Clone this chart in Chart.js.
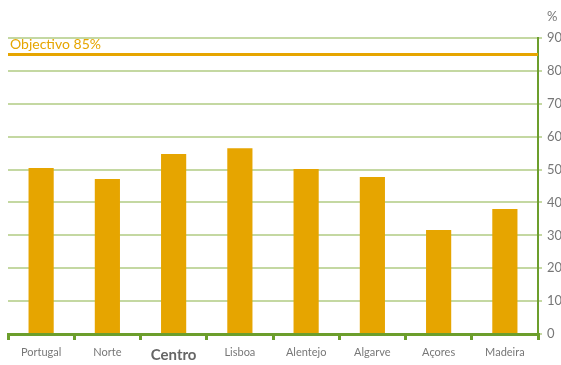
<!DOCTYPE html>
<html>
<head>
<meta charset="utf-8">
<script src="https://cdn.jsdelivr.net/npm/chart.js@4"></script>
<style>
  body { margin: 0; background: #fff; }
  #wrap { width: 561px; height: 365px; position: relative; }
</style>
</head>
<body>
<div id="wrap"><canvas id="chart"></canvas></div>
<script>
// Dados
const regions = ['Portugal', 'Norte', 'Centro', 'Lisboa', 'Alentejo', 'Algarve', 'Açores', 'Madeira'];
const values = [50.5, 47.1, 54.7, 56.5, 50.2, 47.7, 31.6, 38.0];
const highlight = 'Centro';
const targetValue = 85;
const targetLabel = 'Objectivo 85%';
const unitLabel = '%';

const ORANGE = '#e6a500';
const GREEN = '#6c9e2c';
const LIGHT_GREEN = '#c4d8a2';
const GREY = '#777777';
const FONT = 'Lato, "DejaVu Sans", sans-serif';

// Linha do objectivo + unidade
const targetPlugin = {
    id: 'targetLine',
    afterDatasetsDraw(chart) {
        const { ctx, chartArea, scales } = chart;
        const y = scales.y.getPixelForValue(targetValue);
        ctx.save();
        ctx.strokeStyle = ORANGE;
        ctx.lineWidth = 3;
        ctx.beginPath();
        ctx.moveTo(chartArea.left, y);
        ctx.lineTo(chartArea.right, y);
        ctx.stroke();
        ctx.fillStyle = ORANGE;
        ctx.font = '14px ' + FONT;
        ctx.textBaseline = 'bottom';
        ctx.textAlign = 'left';
        ctx.fillText(targetLabel, chartArea.left + 2, y - 3);
        ctx.fillStyle = GREY;
        ctx.font = '13px ' + FONT;
        ctx.textBaseline = 'middle';
        ctx.fillText(unitLabel, chartArea.right + 9, 17);
        ctx.restore();
    }
};

new Chart(document.getElementById('chart'), {
    type: 'bar',
    data: {
        labels: regions,
        datasets: [{
            data: values,
            backgroundColor: ORANGE,
            barPercentage: 0.38,
            categoryPercentage: 1
        }]
    },
    options: {
        responsive: true,
        maintainAspectRatio: false,
        animation: false,
        layout: { padding: { top: 38, left: 8, right: 0, bottom: 0 } },
        plugins: {
            legend: { display: false },
            tooltip: { enabled: false }
        },
        scales: {
            x: {
                afterFit(scale) { scale.height = 31; },
                grid: {
                    display: true,
                    drawOnChartArea: false,
                    offset: true,
                    tickLength: 6,
                    color: GREEN,
                    lineWidth: 3
                },
                border: { display: true, color: GREEN, width: 3 },
                ticks: {
                    padding: 6,
                    maxRotation: 0,
                    color: function(c) {
                        return regions[c.index] === highlight ? '#666666' : GREY;
                    },
                    font: function(c) {
                        return regions[c.index] === highlight
                            ? { family: FONT, size: 15, weight: 'bold' }
                            : { family: FONT, size: 11 };
                    }
                }
            },
            y: {
                position: 'right',
                min: 0,
                max: 90,
                afterFit(scale) { scale.width = 23; },
                grid: {
                    color: LIGHT_GREEN,
                    lineWidth: 2,
                    tickLength: 4
                },
                border: { display: true, color: GREEN, width: 2 },
                ticks: {
                    stepSize: 10,
                    padding: 5,
                    color: GREY,
                    font: { family: FONT, size: 13 }
                }
            }
        }
    },
    plugins: [targetPlugin]
});
</script>
</body>
</html>
